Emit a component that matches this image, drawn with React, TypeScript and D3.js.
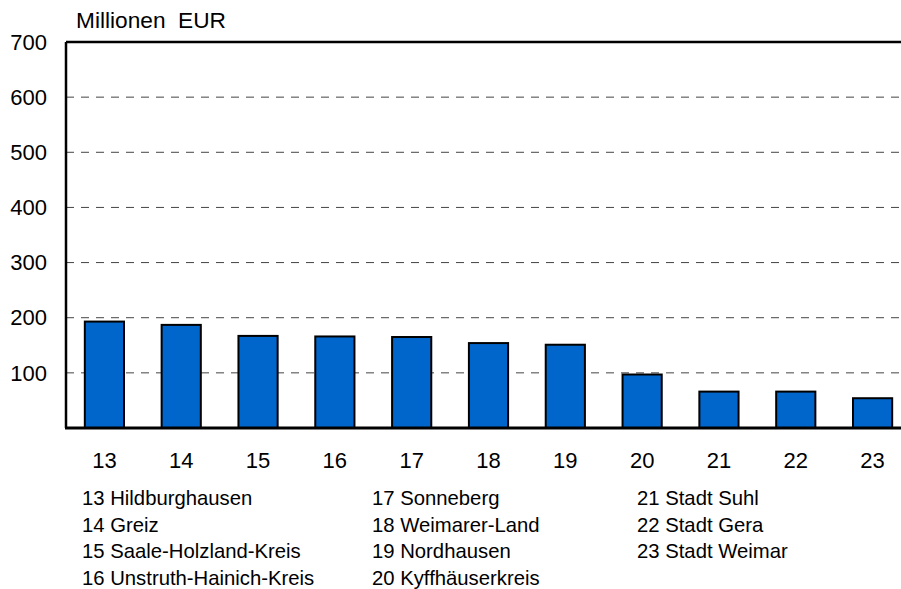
import React from "react";
import * as d3 from "d3";

const categories = ["13", "14", "15", "16", "17", "18", "19", "20", "21", "22", "23"];
const values = [193, 187, 167, 166, 165, 154, 151, 97, 66, 66, 54];
const yTicks = [0, 100, 200, 300, 400, 500, 600, 700];
const legendCol1 = ["13 Hildburghausen", "14 Greiz", "15 Saale-Holzland-Kreis", "16 Unstruth-Hainich-Kreis"];
const legendCol2 = ["17 Sonneberg", "18 Weimarer-Land", "19 Nordhausen", "20 Kyffhäuserkreis"];
const legendCol3 = ["21 Stadt Suhl", "22 Stadt Gera", "23 Stadt Weimar"];
const unitLabel = "Millionen  EUR";

const W = 901;
const H = 589;
const left = 66;
const right = 911;
const top = 42;
const bottom = 428;
const font = "'Liberation Sans', Arial, Helvetica, sans-serif";

export default function App() {
  const x = d3.scaleBand<string>().domain(categories).range([left, right]).paddingInner(0.49).paddingOuter(0.245);
  const y = d3.scaleLinear().domain([0, 700]).range([bottom, top]);
  const legendCols = [
    { x: 82, items: legendCol1 },
    { x: 372, items: legendCol2 },
    { x: 637, items: legendCol3 },
  ];
  return (
    <div style={{ position: "absolute", left: 0, top: 0 }}>
      <svg width={W} height={H} style={{ display: "block", background: "#fff" }} fontFamily={font}>
        <rect x={0} y={0} width={W} height={H} fill="#fff" />
        <text x={76} y={28} fontSize={21.5} fill="#000" style={{ whiteSpace: "pre" }} textLength={150} lengthAdjust="spacingAndGlyphs">
          {unitLabel}
        </text>
        {yTicks.filter((t) => t > 0 && t < 700).map((t) => (
          <line key={"g" + t} x1={left} x2={right} y1={y(t)} y2={y(t)} stroke="#444" strokeWidth={1} strokeDasharray="8,7" />
        ))}
        {yTicks.map((t) => (
          <text key={"yl" + t} x={47} y={y(t)} dy="0.35em" textAnchor="end" fontSize={22} fill="#000">
            {t === 0 ? "" : String(t)}
          </text>
        ))}
        {categories.map((c, i) => (
          <rect
            key={"b" + c}
            x={x(c)!}
            y={y(values[i])}
            width={x.bandwidth()}
            height={bottom - y(values[i])}
            fill="#0066CC"
            stroke="#000"
            strokeWidth={2}
          />
        ))}
        <line x1={left} x2={right} y1={top} y2={top} stroke="#000" strokeWidth={2.5} />
        <line x1={left} x2={left} y1={top} y2={bottom} stroke="#000" strokeWidth={2.5} />
        <line x1={left - 1} x2={right} y1={bottom} y2={bottom} stroke="#000" strokeWidth={3} />
        {categories.map((c) => (
          <text key={"xl" + c} x={x(c)! + x.bandwidth() / 2} y={468} textAnchor="middle" fontSize={22} fill="#000">
            {c}
          </text>
        ))}
        {legendCols.map((col, ci) =>
          col.items.map((s, i) => (
            <text key={"lg" + ci + "-" + i} x={col.x} y={505 + i * 26.7} fontSize={20.3} fill="#000">
              {s}
            </text>
          ))
        )}
      </svg>
    </div>
  );
}
